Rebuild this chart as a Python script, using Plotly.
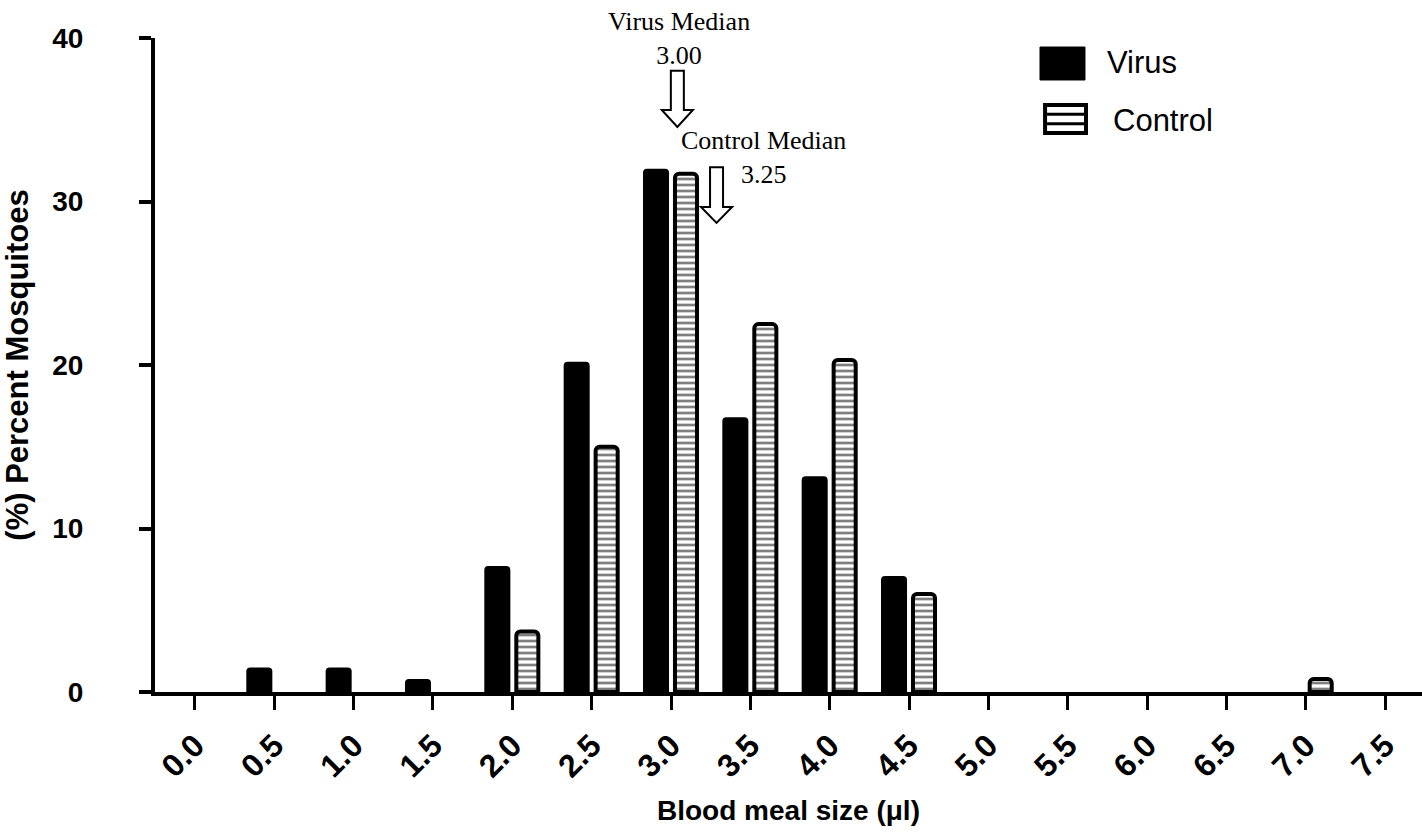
import plotly.graph_objects as go

# ---- data ----
bins = [0.0, 0.5, 1.0, 1.5, 2.0, 2.5, 3.0, 3.5, 4.0, 4.5, 5.0, 5.5, 6.0, 6.5, 7.0, 7.5]
tick_labels = ["0.0", "0.5", "1.0", "1.5", "2.0", "2.5", "3.0", "3.5",
               "4.0", "4.5", "5.0", "5.5", "6.0", "6.5", "7.0", "7.5"]
virus = [0, 1.5, 1.5, 0.8, 7.7, 20.2, 32.0, 16.8, 13.2, 7.1, 0, 0, 0, 0, 0, 0]
control = [0, 0, 0, 0, 3.7, 15.0, 31.7, 22.5, 20.3, 6.0, 0, 0, 0, 0, 0.8, 0]
y_ticks = [0, 10, 20, 30, 40]
medians = {"Virus": 3.00, "Control": 3.25}

SANS = "Liberation Sans, Arial, sans-serif"
SERIF = "Liberation Serif, Times New Roman, serif"

def nz(vals):
    # zero-height bins draw nothing
    return [v if v else None for v in vals]

fig = go.Figure()
fig.add_trace(go.Bar(
    x=bins, y=nz(virus), name="Virus",
    offset=-0.1765, width=0.164,
    marker=dict(color="black", line=dict(width=0), cornerradius=4),
    showlegend=False,
))
fig.add_trace(go.Bar(
    x=bins, y=nz(control), name="Control",
    offset=0.025, width=0.139,
    marker=dict(color="white", line=dict(color="black", width=4), cornerradius=4,
                pattern=dict(shape="-", fgcolor="black", bgcolor="white",
                             size=6, solidity=0.45)),
    showlegend=False,
))

# median arrows (hollow block arrows)
def arrow_path(xc, ytop, ybase, ytip, hs=0.041, hh=0.098):
    return (f"M {xc-hs},{ytop} L {xc+hs},{ytop} L {xc+hs},{ybase} L {xc+hh},{ybase} "
            f"L {xc},{ytip} L {xc-hh},{ybase} L {xc-hs},{ybase} Z")

shapes = [
    dict(type="path", xref="x", yref="y",
         path=arrow_path(medians["Virus"] + 0.04, 38.0, 35.6, 34.56),
         line=dict(color="black", width=2), fillcolor="white"),
    dict(type="path", xref="x", yref="y",
         path=arrow_path(medians["Control"] + 0.037, 32.1, 29.66, 28.69),
         line=dict(color="black", width=2), fillcolor="white"),
    # legend swatches
    dict(type="rect", xref="paper", yref="paper",
         x0=0.6985, x1=0.734, y0=0.9358, y1=0.9862,
         line=dict(color="black", width=1), fillcolor="black"),
    dict(type="rect", xref="paper", yref="paper",
         x0=0.7025, x1=0.7348, y0=0.8548, y1=0.8975,
         line=dict(color="black", width=4), fillcolor="white"),
    dict(type="line", xref="paper", yref="paper",
         x0=0.7025, x1=0.7348, y0=0.8690, y1=0.8690,
         line=dict(color="black", width=3)),
    dict(type="line", xref="paper", yref="paper",
         x0=0.7025, x1=0.7348, y0=0.8833, y1=0.8833,
         line=dict(color="black", width=3)),
]

annotations = [
    dict(x=medians["Virus"] + 0.05, y=40.0, xref="x", yref="y",
         text=f"Virus Median<br>{medians['Virus']:.2f}", showarrow=False,
         xanchor="center", yanchor="middle",
         font=dict(family=SERIF, size=26, color="black")),
    dict(x=medians["Control"] + 0.33, y=32.7, xref="x", yref="y",
         text=f"Control Median<br>{medians['Control']:.2f}", showarrow=False,
         xanchor="center", yanchor="middle",
         font=dict(family=SERIF, size=26, color="black")),
    dict(x=0.7498, y=0.9618, xref="paper", yref="paper", text="Virus",
         showarrow=False, xanchor="left", yanchor="middle",
         font=dict(family=SANS, size=31, color="black")),
    dict(x=0.7545, y=0.8746, xref="paper", yref="paper", text="Control",
         showarrow=False, xanchor="left", yanchor="middle",
         font=dict(family=SANS, size=31, color="black")),
]

fig.update_layout(
    width=1422, height=833,
    margin=dict(l=155, r=0, t=38, b=141),
    plot_bgcolor="white", paper_bgcolor="white",
    barmode="overlay",
    shapes=shapes, annotations=annotations,
    xaxis=dict(
        range=[-0.252, 7.733],
        tickvals=bins, ticktext=tick_labels, tickangle=-45,
        ticks="outside", ticklen=14, tickwidth=3, tickcolor="black",
        showline=True, linewidth=4, linecolor="black",
        showgrid=False, zeroline=False,
        tickfont=dict(family=SANS, size=32, color="black", weight="bold"),
        ticklabelstandoff=4,
        title=dict(text="Blood meal size (μl)", standoff=18,
                   font=dict(family=SANS, size=28, color="black", weight="bold")),
    ),
    yaxis=dict(
        range=[0, 40], tickvals=y_ticks,
        ticks="outside", ticklen=12, tickwidth=4, tickcolor="black",
        showline=True, linewidth=4, linecolor="black",
        showgrid=False, zeroline=False,
        tickfont=dict(family=SANS, size=28, color="black", weight="bold"),
        ticklabelstandoff=50,
        title=dict(text="(%) Percent Mosquitoes", standoff=18,
                   font=dict(family=SANS, size=31, color="black", weight="bold")),
    ),
)

fig.write_html("out.html")
